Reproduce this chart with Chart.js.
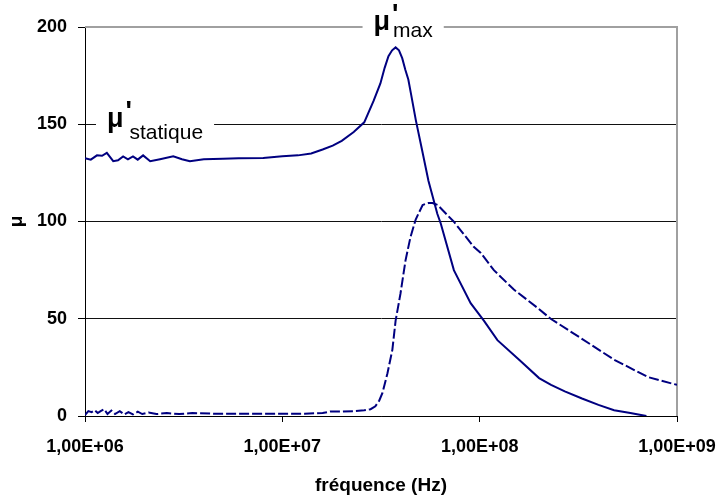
<!DOCTYPE html>
<html>
<head>
<meta charset="utf-8">
<script src="https://cdn.jsdelivr.net/npm/chart.js@4"></script>
<style>
  body { margin: 0; background: #fff; }
</style>
</head>
<body>
<canvas id="chart__mu" width="718" height="497"></canvas>
<script>
"use strict";

// ** Data
const freqReal = [1.0e6, 1.07e6, 1.15e6, 1.22e6, 1.29e6, 1.39e6, 1.47e6, 1.56e6, 1.65e6, 1.75e6, 1.85e6, 1.97e6, 2.14e6, 2.4e6, 2.8e6, 3.1e6, 3.4e6, 4.0e6, 5.0e6, 6.0e6, 8.0e6, 1.0e7, 1.2e7, 1.4e7, 1.6e7, 1.8e7, 2.0e7, 2.3e7, 2.6e7, 2.9e7, 3.14e7, 3.3e7, 3.45e7, 3.6e7, 3.75e7, 3.9e7, 4.05e7, 4.2e7, 4.35e7, 4.5e7, 4.75e7, 5.1e7, 5.5e7, 6.1e7, 6.35e7, 7.4e7, 9.0e7, 1.05e8, 1.23e8, 1.6e8, 2.0e8, 2.3e8, 2.7e8, 3.3e8, 4.0e8, 4.8e8, 5.8e8, 7.0e8];
const muReal = [132.5, 131.8, 134, 133.8, 135.3, 131, 131.5, 133.5, 132, 133.5, 131.8, 134, 131, 132, 133.5, 132, 131, 132, 132.2, 132.5, 132.7, 133.5, 134, 135, 137, 139, 141.5, 146, 151, 162, 171, 179, 185, 188, 189.5, 188, 184, 178, 173, 165, 152, 137, 121, 104, 99, 75, 58, 49, 39, 28.5, 19.5, 16, 12.7, 9, 5.7, 3, 1.5, 0];

const freqImag = [1.0e6, 1.04e6, 1.08e6, 1.12e6, 1.16e6, 1.2e6, 1.25e6, 1.3e6, 1.36e6, 1.42e6, 1.5e6, 1.58e6, 1.66e6, 1.75e6, 1.85e6, 1.95e6, 2.1e6, 2.3e6, 2.6e6, 3.0e6, 3.5e6, 4.5e6, 6e6, 8e6, 1e7, 1.3e7, 1.6e7, 1.75e7, 2e7, 2.3e7, 2.6e7, 2.8e7, 2.96e7, 3.1e7, 3.22e7, 3.41e7, 3.61e7, 3.75e7, 3.97e7, 4.21e7, 4.46e7, 4.74e7, 5.14e7, 5.5e7, 5.77e7, 6.12e7, 7.38e7, 9.33e7, 1.01e8, 1.18e8, 1.49e8, 1.97e8, 2.29e8, 3.26e8, 4.79e8, 7.13e8, 1e9];
const muImag = [0.5, 2.5, 2, 3, 1.5, 2.5, 3.5, 1, 2.8, 1, 2.5, 0.8, 2, 0.8, 2.2, 1, 1.8, 1, 1.5, 1, 1.5, 1.2, 1.2, 1.2, 1.2, 1.2, 1.5, 2.3, 2.3, 2.5, 3, 3.5, 5, 8, 12, 22, 34, 49, 63, 80, 92, 101, 108.5, 109.5, 109.5, 108.5, 100, 87, 84, 75, 65, 55.5, 50, 40, 29, 20, 16];

const xTickValues = [1e6, 1e7, 1e8, 1e9];
const yTickValues = [0, 50, 100, 150, 200];

// annotation labels : subscript text, anchor frequency, anchor value
const labelSub = ["max", "statique"];
const labelFreq = [2.55e7, 1.137e6];
const labelValue = [200, 150];

// ---------------------------------------------------------- //
const FONT = '"Liberation Sans", Arial, sans-serif';
const NAVY = "#000080";
Chart.defaults.font.family = FONT;
Chart.defaults.color = "#000";

function toPoints(xs, ys) {
  return xs.map((x, i) => ({ x: x, y: ys[i] }));
}

function excelSci(v) {
  const exp = Math.round(Math.log10(v));
  const mant = (v / Math.pow(10, exp)).toFixed(2).replace(".", ",");
  return `${mant}E+${String(exp).padStart(2, "0")}`;
}

// plot area frame (grey top and right edges)
const frame = {
  id: "frame",
  beforeDatasetsDraw(chart) {
    const { ctx, chartArea: a } = chart;
    ctx.save();
    ctx.strokeStyle = "#a0a0a0";
    ctx.lineWidth = 2;
    ctx.beginPath();
    ctx.moveTo(a.left, a.top);
    ctx.lineTo(a.right, a.top);
    ctx.lineTo(a.right, a.bottom);
    ctx.stroke();
    ctx.restore();
  },
};

// mu' labels with white boxes over the grid lines
const subDrop = [10, 15];
const muLabels = {
  id: "muLabels",
  afterDatasetsDraw(chart) {
    const { ctx, scales } = chart;
    labelSub.forEach((sub, i) => {
      const left = scales.x.getPixelForValue(labelFreq[i]);
      const base = scales.y.getPixelForValue(labelValue[i]);
      ctx.save();
      ctx.font = `bold 27px ${FONT}`;
      const wMu = ctx.measureText("μ").width;
      ctx.font = `21px ${FONT}`;
      const wSub = ctx.measureText(sub).width;
      const pad = 11;
      const gap = i === 0 ? 3 : 6;
      const w = pad + wMu + gap + wSub + pad;
      ctx.fillStyle = "#fff";
      ctx.fillRect(left, base - 20, w, 38);
      ctx.fillStyle = "#000";
      ctx.textBaseline = "alphabetic";
      ctx.textAlign = "left";
      ctx.font = `bold 27px ${FONT}`;
      ctx.fillText("μ", left + pad, base + 3);
      ctx.fillText("'", left + pad + wMu + 2, base - 4);
      ctx.font = `21px ${FONT}`;
      ctx.fillText(sub, left + pad + wMu + gap, base + subDrop[i]);
      ctx.restore();
    });
  },
};

const config = {
  type: "line",
  data: {
    datasets: [
      {
        label: "mu'",
        data: toPoints(freqReal, muReal),
        borderColor: NAVY,
        borderWidth: 2,
        pointRadius: 0,
        tension: 0,
      },
      {
        label: "mu''",
        data: toPoints(freqImag, muImag),
        borderColor: NAVY,
        borderWidth: 2,
        borderDash: [10, 3],
        pointRadius: 0,
        tension: 0,
      },
    ],
  },
  options: {
    responsive: false,
    animation: false,
    layout: { padding: { top: 27, right: 41, left: 0, bottom: 0 } },
    plugins: {
      legend: { display: false },
      tooltip: { enabled: false },
    },
    scales: {
      x: {
        type: "logarithmic",
        min: 1e6,
        max: 1e9,
        afterFit: (scale) => {
          scale.height = 81;
          scale.paddingLeft = 0;
          scale.paddingRight = 0;
        },
        afterBuildTicks: (scale) => {
          scale.ticks = xTickValues.map((v) => ({ value: v }));
        },
        grid: {
          drawOnChartArea: false,
          tickLength: 6,
          tickColor: "#000",
        },
        border: { color: "#000", width: 1 },
        ticks: {
          maxRotation: 0,
          padding: 14,
          font: { size: 18, weight: "bold" },
          callback: (v) => excelSci(v),
        },
        title: {
          display: true,
          text: "fréquence (Hz)",
          font: { size: 19, weight: "bold" },
          padding: { top: 0, bottom: 0 },
        },
      },
      y: {
        min: 0,
        max: 200,
        afterFit: (scale) => {
          scale.width = 85;
          scale.paddingTop = 0;
          scale.paddingBottom = 0;
        },
        afterBuildTicks: (scale) => {
          scale.ticks = yTickValues.map((v) => ({ value: v }));
        },
        grid: {
          color: (c) => (c.tick && c.tick.value === 200 ? "#a0a0a0" : "#111"),
          tickColor: "#000",
          tickLength: 7,
        },
        border: { color: "#000", width: 1 },
        ticks: {
          padding: 11,
          font: { size: 18, weight: "bold" },
        },
        title: {
          display: true,
          text: "μ",
          font: { size: 19, weight: "bold" },
          padding: { top: 5, bottom: 0 },
        },
      },
    },
  },
  plugins: [frame, muLabels],
};

const ctx = document.getElementById("chart__mu").getContext("2d");
const chart = new Chart(ctx, config);
</script>
</body>
</html>
